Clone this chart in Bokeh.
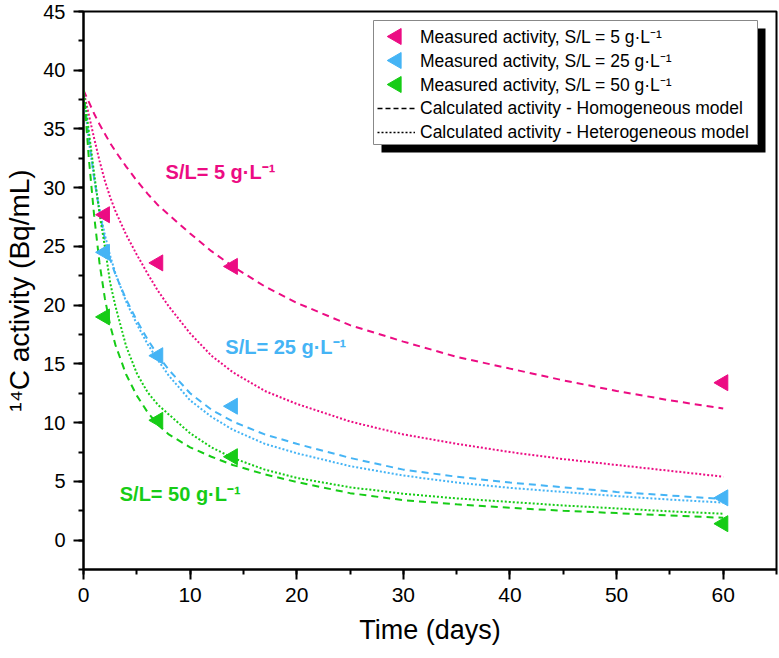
import numpy as np
from bokeh.plotting import figure
from bokeh.models import Range1d, SingleIntervalTicker, Legend, LegendItem, Label, BoxAnnotation
from bokeh.embed import file_html
from bokeh.resources import INLINE

# ---------------- data ----------------
t_meas = [2, 7, 14, 60]
meas_5 = [27.7, 23.6, 23.3, 13.4]
meas_25 = [24.5, 15.7, 11.4, 3.6]
meas_50 = [19.0, 10.2, 7.1, 1.4]

t_calc = [0, 0.25, 0.5, 1, 1.5, 2, 2.5, 3, 4, 5, 6, 7, 8, 10, 12, 14, 17, 20, 25, 30, 35, 40, 45, 50, 55, 60]
hom_5 = [38.3, 37.8, 37.3, 36.3, 35.4, 34.6, 33.8, 33.1, 31.8, 30.6, 29.5, 28.5, 27.7, 26.1, 24.6, 23.3,
         21.6, 20.2, 18.3, 16.9, 15.6, 14.6, 13.6, 12.7, 11.9, 11.2]
het_5 = [38.3, 37.2, 36.2, 34.2, 32.3, 30.6, 29.2, 28.0, 26.0, 24.3, 22.7, 21.2, 19.9, 17.6, 15.7, 14.3,
         12.7, 11.6, 10.1, 9.0, 8.2, 7.5, 6.9, 6.4, 5.9, 5.4]
hom_25 = [38.3, 36.2, 34.2, 30.8, 28.0, 25.6, 23.9, 22.6, 20.5, 18.7, 17.1, 15.7, 14.5, 12.5, 11.1, 10.1,
          9.0, 8.2, 7.0, 6.0, 5.4, 4.9, 4.5, 4.1, 3.8, 3.5]
het_25 = [38.3, 36.0, 34.0, 30.8, 28.2, 26.0, 24.2, 22.7, 20.3, 18.4, 16.7, 15.3, 14.0, 11.9, 10.5, 9.4,
          8.2, 7.4, 6.3, 5.5, 4.9, 4.45, 4.1, 3.75, 3.45, 3.2]
hom_50 = [38.3, 35.5, 32.5, 27.6, 23.6, 20.6, 18.3, 16.6, 14.1, 12.3, 10.9, 9.8, 9.0, 7.9, 7.1, 6.4,
          5.6, 4.95, 4.0, 3.4, 3.05, 2.75, 2.5, 2.3, 2.1, 1.9]
het_50 = [38.3, 36.6, 34.8, 31.2, 27.8, 25.0, 21.9, 19.9, 16.5, 14.2, 12.6, 11.5, 10.7, 9.1, 7.9, 7.0,
          6.0, 5.3, 4.5, 3.95, 3.55, 3.25, 2.95, 2.7, 2.45, 2.25]

legend_labels = [
    "Measured activity, S/L = 5 g\u00b7L\u207b\u00b9",
    "Measured activity, S/L = 25 g\u00b7L\u207b\u00b9",
    "Measured activity, S/L = 50 g\u00b7L\u207b\u00b9",
    "Calculated activity - Homogeneous model",
    "Calculated activity - Heterogeneous model",
]
curve_labels = ["S/L= 5 g\u00b7L\u207b\u00b9", "S/L= 25 g\u00b7L\u207b\u00b9", "S/L= 50 g\u00b7L\u207b\u00b9"]

PINK = "#EC0C83"
BLUE = "#45B4F5"
GREEN = "#16CC16"
FONT = "Liberation Sans"

X0, X1, Y0, Y1 = 0, 65, -2.5, 45
W, H = 779, 658
BL, BR, BT, BB = 83, 3, 11, 89

p = figure(width=W, height=H, x_range=Range1d(X0, X1), y_range=Range1d(Y0, Y1),
           output_backend="svg", toolbar_location=None,
           min_border_left=BL, min_border_right=BR, min_border_top=BT, min_border_bottom=BB)
p.xgrid.visible = False
p.ygrid.visible = False
p.outline_line_color = "black"
p.outline_line_width = 2
p.outline_line_alpha = 1
p.background_fill_color = "white"
p.border_fill_color = "white"

p.xaxis.ticker = SingleIntervalTicker(interval=10, num_minor_ticks=2)
p.yaxis.ticker = SingleIntervalTicker(interval=5, num_minor_ticks=2)
for ax in (p.xaxis[0], p.yaxis[0]):
    ax.axis_line_width = 2
    ax.major_tick_line_width = 2
    ax.minor_tick_line_width = 2
    ax.major_tick_out = 10
    ax.major_tick_in = 0
    ax.minor_tick_out = 5
    ax.minor_tick_in = 0
    ax.major_label_text_font = FONT
    ax.major_label_text_color = "black"
    ax.axis_label_text_font = FONT
    ax.axis_label_text_font_style = "normal"
    ax.axis_label_text_color = "black"
    ax.axis_label_text_font_size = "27px"
    ax.major_label_standoff = 8
p.xaxis.major_label_text_font_size = "21px"
p.yaxis.major_label_text_font_size = "20px"
p.yaxis.axis_label_text_font_size = "28px"
p.xaxis.axis_label = "Time (days)"
p.yaxis.axis_label = "\u00b9\u2074C activity (Bq/mL)"
p.xaxis.axis_label_standoff = 10
p.yaxis.axis_label_standoff = 5

# legend shadow and box (decoration, placed from pixel layout, drawn beneath glyphs)
FW, FH = W - BL - BR, H - BT - BB
def dx(px):
    return X0 + (px - BL) / FW * (X1 - X0)
def dy(py):
    return Y1 - (py - BT) / FH * (Y1 - Y0)
LEG_L, LEG_R, LEG_T, LEG_B, SH = 373, 757, 20, 144, 8
p.add_layout(BoxAnnotation(left=dx(LEG_L + SH), right=dx(LEG_R + SH), top=dy(LEG_T + SH), bottom=dy(LEG_B + SH),
                           fill_color="black", fill_alpha=1, line_alpha=0, level="underlay"))
p.add_layout(BoxAnnotation(left=dx(LEG_L), right=dx(LEG_R), top=dy(LEG_T), bottom=dy(LEG_B),
                           fill_color="white", fill_alpha=1, line_color="#888888", line_width=1,
                           line_alpha=1, level="underlay"))

DASH = "7 5"
DOT = "2 2"
LW = 2

p.line(t_calc, hom_5, color=PINK, line_dash=DASH, line_width=LW)
p.line(t_calc, het_5, color=PINK, line_dash=DOT, line_width=LW)
p.line(t_calc, hom_25, color=BLUE, line_dash=DASH, line_width=LW)
p.line(t_calc, het_25, color=BLUE, line_dash=DOT, line_width=LW)
p.line(t_calc, hom_50, color=GREEN, line_dash=DASH, line_width=LW)
p.line(t_calc, het_50, color=GREEN, line_dash=DOT, line_width=LW)

MS = 16
p.scatter(t_meas, meas_5, marker="triangle", angle=np.pi / 2, size=MS, color=PINK)
p.scatter(t_meas, meas_25, marker="triangle", angle=np.pi / 2, size=MS, color=BLUE)
p.scatter(t_meas, meas_50, marker="triangle", angle=np.pi / 2, size=MS, color=GREEN)

# legend proxies (marker swatches are drawn separately so that they point left)
nan2 = [np.nan, np.nan]
prox = [p.scatter(x=nan2, y=nan2, marker="triangle", size=1, fill_alpha=0, line_alpha=0) for _ in range(3)]
rdash = p.line(x=nan2, y=nan2, color="black", line_dash="5 3", line_width=1.5)
rdot = p.line(x=nan2, y=nan2, color="black", line_dash="2 2", line_width=1.5)

ROW, PAD = 24, 4
p.scatter(x=[dx(LEG_L + PAD + 19)] * 3, y=[dy(LEG_T + PAD + ROW / 2 + ROW * i) for i in range(3)],
          marker="triangle", angle=np.pi / 2, size=MS, color=[PINK, BLUE, GREEN])

# curve annotations
for txt, (lx, ly), col in zip(curve_labels, [(7.7, 31.3), (13.3, 16.4), (3.4, 3.9)], [PINK, BLUE, GREEN]):
    p.add_layout(Label(x=lx, y=ly, text=txt, text_color=col, text_font=FONT, text_font_size="20px",
                       text_font_style="bold", text_baseline="middle", text_align="left"))

legend = Legend(items=[LegendItem(label=l, renderers=[r]) for l, r in
                       zip(legend_labels, prox + [rdash, rdot])])
legend.location = (LEG_L - BL, (H - BB) - (LEG_T + 2 * PAD + 5 * ROW))
legend.label_text_font = FONT
legend.label_text_font_size = "17.5px"
legend.label_text_color = "black"
legend.glyph_width = 38
legend.glyph_height = ROW
legend.label_height = ROW
legend.spacing = 0
legend.padding = PAD
legend.margin = 0
legend.label_standoff = 5
legend.border_line_alpha = 0
legend.background_fill_alpha = 0
p.add_layout(legend)

open("out.html", "w").write(file_html(p, INLINE))
